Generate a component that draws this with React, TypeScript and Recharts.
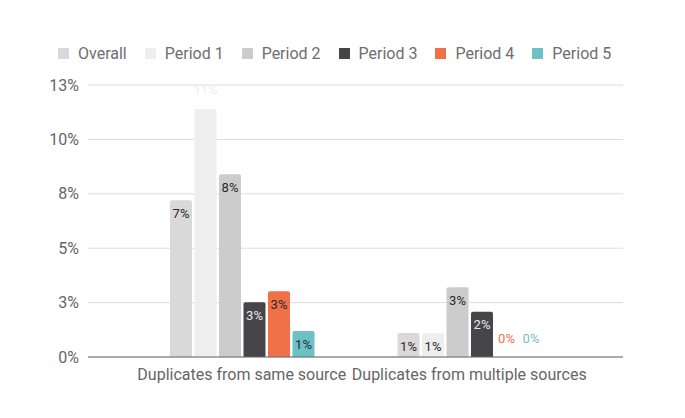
import React from 'react';
import { BarChart, Bar, XAxis, YAxis, CartesianGrid, Legend, Rectangle } from 'recharts';

const categories = ['Duplicates from same source', 'Duplicates from multiple sources'];
const seriesNames = ['Overall', 'Period 1', 'Period 2', 'Period 3', 'Period 4', 'Period 5'];
const overall = [7.2, 1.1];
const period1 = [11.4, 1.1];
const period2 = [8.4, 3.2];
const period3 = [2.52, 2.08];
const period4 = [3.02, 0];
const period5 = [1.19, 0];
const yTicks = [0, 2.5, 5, 7.5, 10, 12.5];
const yTickLabels = ['0%', '3%', '5%', '8%', '10%', '13%'];

const colors = ['#d9d9d9', '#eeeeee', '#cccccc', '#46464a', '#f07148', '#6cc1c6'];
const keys = ['s0', 's1', 's2', 's3', 's4', 's5'];
const seriesValues = [overall, period1, period2, period3, period4, period5];

const data = categories.map((c, i) => {
  const row: any = { name: c };
  seriesValues.forEach((vals, s) => {
    row[keys[s]] = vals[i];
  });
  return row;
});

const makeShape = (s: number) => (props: any) => {
  const { x, y, width, height, payload } = props;
  const v = Number(payload ? payload[keys[s]] : props.value);
  const outside = v === 0 || v > 11;
  const cx = Number(x) + Number(width) / 2;
  const h = Number(height) || 0;
  const top = Math.min(Number(y), Number(y) + h);
  const cy = outside ? top - 19 : top + 13;
  const fill = outside ? colors[s] : s === 3 ? '#e6e6e6' : '#2a2a2a';
  return (
    <g>
      {h !== 0 && <Rectangle x={x} y={y} width={width} height={height} fill={colors[s]} stroke="none" radius={[2, 2, 0, 0]} />}
      <text
        x={cx}
        y={cy}
        textAnchor="middle"
        dominantBaseline="central"
        fontSize={13}
        fontWeight={400}
        stroke="none"
        fill={fill}
      >
        {Math.round(v) + '%'}
      </text>
    </g>
  );
};

const renderLegend = (props: any) => {
  const payload = props.payload || [];
  return (
    <div style={{ display: 'flex', alignItems: 'center', paddingLeft: 58, fontSize: 16, color: '#6e6e6e', height: 20 }}>
      {payload.map((p: any, i: number) => (
        <div key={i} style={{ display: 'flex', alignItems: 'center', marginRight: 18 }}>
          <span style={{ display: 'inline-block', width: 11, height: 11, background: p.color, marginRight: 9 }} />
          <span>{p.value}</span>
        </div>
      ))}
    </div>
  );
};

export default function App() {
  return (
    <div style={{ position: 'absolute', left: 0, top: 0, width: 685, height: 418, background: '#ffffff', fontFamily: 'Roboto, sans-serif' }}>
      <BarChart
        width={685}
        height={418}
        data={data}
        margin={{ top: 85, right: 62, bottom: 31, left: 0 }}
        barSize={22}
        barGap={2.5}
      >
        <CartesianGrid vertical={false} stroke="#dddddd" />
        <XAxis
          dataKey="name"
          tickLine={false}
          tickSize={0}
          tickMargin={12}
          axisLine={{ stroke: '#666666' }}
          tick={{ fill: '#666666', fontSize: 16 }}
          padding={{ left: 40, right: 40 }}
          height={30}
          interval={0}
        />
        <YAxis
          width={88}
          domain={[0, 12.5]}
          ticks={yTicks}
          tickFormatter={(v: number) => yTickLabels[yTicks.indexOf(v)]}
          axisLine={false}
          tickLine={false}
          tickSize={0}
          tickMargin={9}
          tick={{ fill: '#666666', fontSize: 16 }}
        />
        <Legend
          verticalAlign="middle"
          align="center"
          content={renderLegend}
          wrapperStyle={{ top: 43, left: 0, width: 685, height: 20 }}
        />
        {keys.map((k, s) => (
          <Bar key={k} dataKey={k} name={seriesNames[s]} fill={colors[s]} shape={makeShape(s)} isAnimationActive={false} />
        ))}
      </BarChart>
    </div>
  );
}
